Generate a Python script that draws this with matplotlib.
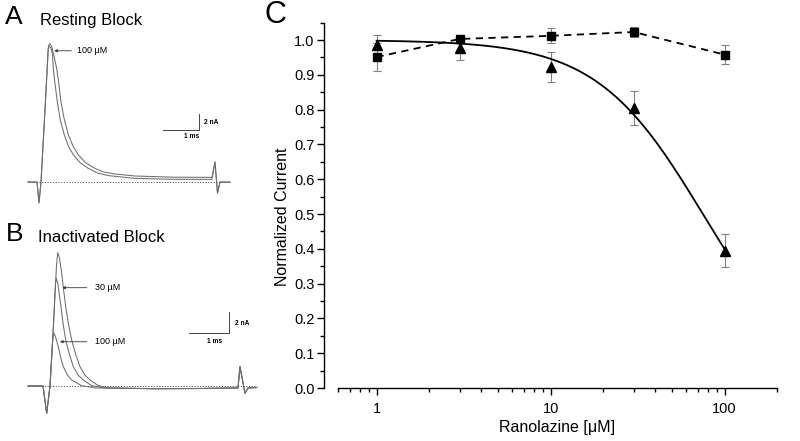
import numpy as np
import matplotlib
matplotlib.use('Agg')
import matplotlib.pyplot as plt
from matplotlib.ticker import FixedLocator, NullFormatter, FixedFormatter

plt.rcParams['font.family'] = ['Liberation Sans', 'DejaVu Sans']

# ---------------- Panel C data ----------------
conc = [1, 3, 10, 30, 100]
inact_mean = [0.985, 0.977, 0.923, 0.804, 0.395]
inact_err = [0.028, 0.035, 0.043, 0.049, 0.047]
rest_mean = [0.951, 1.003, 1.012, 1.023, 0.958]
rest_err = [0.040, 0.010, 0.022, 0.013, 0.028]
fit_ic50 = 75.0
fit_hill = 1.42
x_major = [1, 10, 100]
x_major_labels = ['1', '10', '100']
y_major = [0.0, 0.1, 0.2, 0.3, 0.4, 0.5, 0.6, 0.7, 0.8, 0.9, 1.0]

# ---------------- Panel A traces (ms, nA) ----------------
A_t_ctrl = [0, 0.25, 0.306, 0.361, 0.472, 0.569, 0.603, 0.653, 0.722, 0.797, 0.85, 0.917, 1.0,
            1.119, 1.25, 1.397, 1.6, 1.861, 2.1, 2.417, 2.972, 4.083, 5.111,
            5.194, 5.264, 5.333, 5.611]
A_i_ctrl = [0, 0, -2.6, 0, 9.0, 17.0, 17.3, 17.0, 15.75, 14.2, 12.5, 10.0, 8.0,
            5.9, 4.5, 3.4, 2.4, 1.7, 1.25, 1.0, 0.75, 0.6, 0.58,
            2.5, -1.4, 0, 0]
A_t_100 = [0, 0.25, 0.306, 0.361, 0.472, 0.556, 0.583, 0.639, 0.681, 0.703, 0.75, 0.814, 0.9,
           1.008, 1.12, 1.258, 1.45, 1.675, 1.95, 2.231, 2.972, 4.083, 5.111,
           5.194, 5.264, 5.333, 5.611]
A_i_100 = [0, 0, -2.6, 0, 9.0, 16.5, 17.0, 16.75, 15.9, 14.2, 12.3, 10.0, 7.7,
           5.9, 4.5, 3.4, 2.4, 1.7, 1.1, 0.8, 0.45, 0.34, 0.33,
           2.5, -1.4, 0, 0]
A_end = 5.611

# ---------------- Panel B traces (ms, nA) ----------------
B_t_ctrl = [0, 0.38, 0.473, 0.557, 0.633, 0.722, 0.752, 0.797, 0.853, 0.9, 0.954, 1.03, 1.106,
            1.2, 1.316, 1.44, 1.570, 1.780, 2.076, 3.2, 4.354, 5.316, 5.367, 5.494, 5.570, 5.790]
B_i_ctrl = [0, 0, -2.52, 0, 4.8, 11.15, 12.29, 11.8, 10.39, 8.9, 7.31, 5.6, 4.24,
            3.0, 1.78, 1.0, 0.55, 0.03, -0.18, -0.25, -0.23, -0.18, 1.78, -0.67, -0.18, -0.14]
B_t_30 = [0, 0.38, 0.473, 0.557, 0.633, 0.696, 0.716, 0.752, 0.835, 0.89, 0.954, 1.05, 1.147,
          1.27, 1.4, 1.612, 1.949, 3.2, 4.354, 5.316, 5.367, 5.494, 5.570, 5.790]
B_i_30 = [0, 0, -2.52, 0, 4.8, 9.49, 9.93, 9.49, 7.31, 5.7, 4.24, 2.9, 1.78,
          1.0, 0.55, 0.03, -0.18, -0.25, -0.23, -0.18, 1.78, -0.67, -0.18, -0.14]
B_t_100 = [0, 0.38, 0.473, 0.557, 0.628, 0.655, 0.69, 0.767, 0.83, 0.894, 1.0, 1.106, 1.359,
           1.696, 3.2, 4.354, 5.316, 5.367, 5.494, 5.570, 5.790]
B_i_100 = [0, 0, -2.52, 0, 4.45, 4.86, 4.6, 3.62, 2.6, 1.78, 1.0, 0.55, 0.03,
           -0.18, -0.25, -0.23, -0.18, 1.78, -0.67, -0.18, -0.14]
B_end = 5.790

W, H = 800, 441
fig = plt.figure(figsize=(W / 100, H / 100), dpi=100)

trace_col = '#6e6e6e'
trace_lw = 0.75


def px_axes(x0, y0, x1, y1):
    return fig.add_axes([x0 / W, 1 - y1 / H, (x1 - x0) / W, (y1 - y0) / H])


# ---------- Panel A ----------
axA = px_axes(0, 0, 260, 220)
axA.set_xlim(-28 / 36, 232 / 36)
axA.set_ylim((182 - 220) / 8, 182 / 8)
axA.axis('off')
axA.plot([0, A_end], [0, 0], color='#555555', lw=0.7, dashes=(1.2, 1.6))
axA.plot(A_t_ctrl, A_i_ctrl, color=trace_col, lw=trace_lw)
axA.plot(A_t_100, A_i_100, color=trace_col, lw=trace_lw)
# scale bar 1 ms / 2 nA
axA.plot([3.758, 4.758, 4.758], [6.56, 6.56, 8.56], color='#444444', lw=0.7)
axA.text(4.89, 7.5, '2 nA', fontsize=4.8, fontweight='bold', va='center', ha='left')
axA.text(4.55, 5.7, '1 ms', fontsize=4.8, fontweight='bold', va='center', ha='center')
axA.annotate('100 µM', xy=(0.73, 16.4), xytext=(1.36, 16.4), fontsize=6.5, va='center',
             arrowprops=dict(arrowstyle='-|>', color='#333333', lw=0.6,
                             mutation_scale=4, shrinkA=2, shrinkB=0))

# ---------- Panel B ----------
axB = px_axes(0, 220, 260, 441)
axB.set_xlim(-28 / 39.5, 232 / 39.5)
axB.set_ylim((386 - 441) / 10.85, 166 / 10.85)
axB.axis('off')
axB.plot([0, B_end], [0, 0], color='#555555', lw=0.7, dashes=(1.2, 1.6))
axB.plot(B_t_ctrl, B_i_ctrl, color=trace_col, lw=trace_lw)
axB.plot(B_t_30, B_i_30, color=trace_col, lw=trace_lw)
axB.plot(B_t_100, B_i_100, color=trace_col, lw=trace_lw)
axB.plot([4.076, 5.076, 5.076], [4.86, 4.86, 6.86], color='#444444', lw=0.7)
axB.text(5.24, 5.75, '2 nA', fontsize=4.8, fontweight='bold', va='center', ha='left')
axB.text(4.73, 4.1, '1 ms', fontsize=4.8, fontweight='bold', va='center', ha='center')
axB.annotate('30 µM', xy=(0.87, 9.06), xytext=(1.70, 9.06), fontsize=6.5, va='center',
             arrowprops=dict(arrowstyle='-|>', color='#333333', lw=0.6,
                             mutation_scale=4, shrinkA=4, shrinkB=0))
axB.annotate('100 µM', xy=(0.81, 4.08), xytext=(1.70, 4.08), fontsize=6.5, va='center',
             arrowprops=dict(arrowstyle='-|>', color='#333333', lw=0.6,
                             mutation_scale=4, shrinkA=4, shrinkB=0))

# panel letters and titles
fig.text(5 / W, 1 - 17 / H, 'A', fontsize=19, va='center', ha='left')
fig.text(40 / W, 1 - 21 / H, 'Resting Block', fontsize=12, va='center', ha='left')
fig.text(6 / W, 1 - 234 / H, 'B', fontsize=19, va='center', ha='left')
fig.text(38 / W, 1 - 237 / H, 'Inactivated Block', fontsize=12, va='center', ha='left')
fig.text(264 / W, 1 - 15 / H, 'C', fontsize=22, va='center', ha='left')

# ---------- Panel C ----------
axC = px_axes(338, 22.6, 777, 388)
axC.set_xscale('log')
axC.set_xlim(0.6, 200)
axC.set_ylim(0, 1.05)
for s in ['top', 'right']:
    axC.spines[s].set_visible(False)
axC.spines['left'].set_position(('outward', 10))
for s in ['left', 'bottom']:
    axC.spines[s].set_linewidth(1.0)

ekw = dict(fmt='none', ecolor='#808080', elinewidth=0.8, capsize=3, capthick=0.8, zorder=2)
axC.errorbar(conc, inact_mean, yerr=inact_err, **ekw)
axC.errorbar(conc, rest_mean, yerr=rest_err, **ekw)

xfit = np.logspace(np.log10(conc[0]), np.log10(conc[-1]), 200)
yfit = 1.0 / (1.0 + (xfit / fit_ic50) ** fit_hill)
axC.plot(xfit, yfit, color='black', lw=1.3, zorder=3)
axC.plot(conc, rest_mean, color='black', lw=1.3, dashes=(4, 3), zorder=3)
axC.plot(conc, inact_mean, '^', color='black', ms=7.5, zorder=4)
axC.plot(conc, rest_mean, 's', color='black', ms=5.5, zorder=4)

axC.xaxis.set_major_locator(FixedLocator(x_major))
axC.xaxis.set_major_formatter(FixedFormatter(x_major_labels))
minors = [0.6, 0.7, 0.8, 0.9] + list(range(2, 10)) + list(range(20, 100, 10)) + [200]
axC.xaxis.set_minor_locator(FixedLocator(minors))
axC.xaxis.set_minor_formatter(NullFormatter())
axC.yaxis.set_major_locator(FixedLocator(y_major))
axC.yaxis.set_major_formatter(FixedFormatter(['%.1f' % v for v in y_major]))
axC.yaxis.set_minor_locator(FixedLocator([0.05 + 0.1 * i for i in range(11)]))

axC.tick_params(which='major', direction='out', length=5, width=1.0, labelsize=10.5,
                colors='black')
axC.tick_params(which='minor', direction='out', length=3, width=1.0)
axC.tick_params(axis='x', which='major', pad=5)
axC.tick_params(axis='y', which='major', pad=2)

axC.set_xlabel('Ranolazine [μM]', fontsize=11.5, labelpad=3)
axC.set_ylabel('Normalized Current', fontsize=11.5, labelpad=3, y=0.47)

fig.savefig('out.png', dpi=100)
